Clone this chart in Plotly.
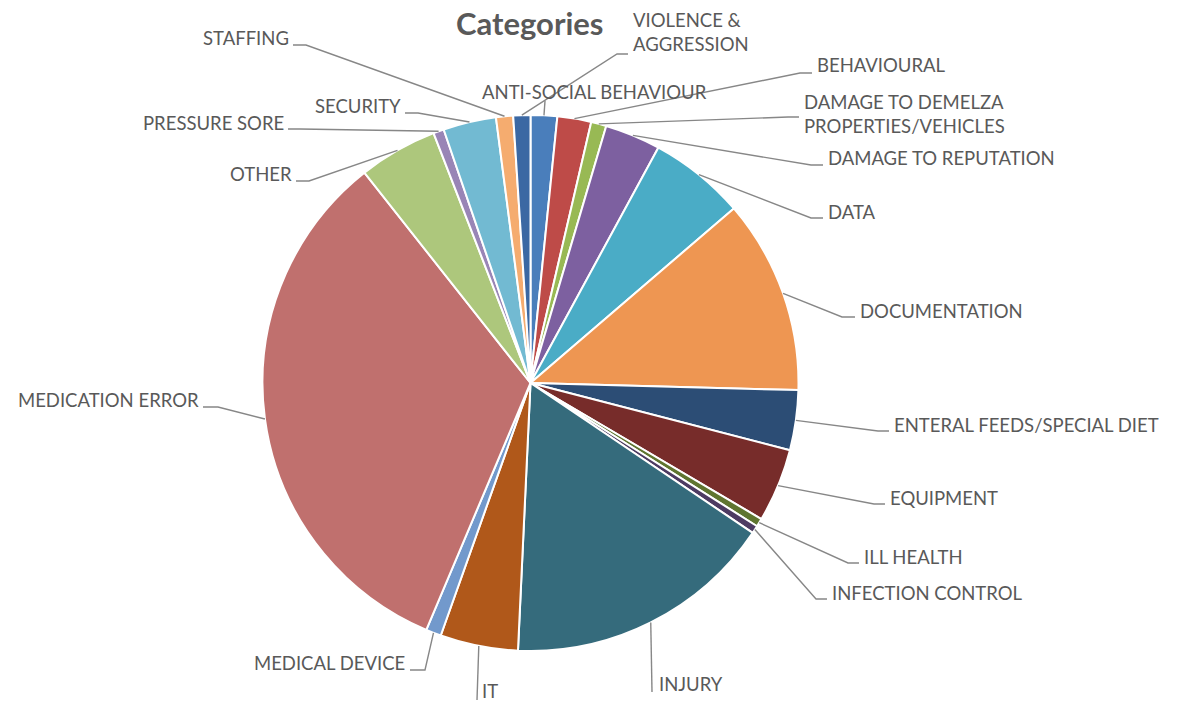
import math
import plotly.graph_objects as go

# ---------------- data ----------------
categories = [
    "ANTI-SOCIAL BEHAVIOUR", "BEHAVIOURAL", "DAMAGE TO DEMELZA PROPERTIES/VEHICLES",
    "DAMAGE TO REPUTATION", "DATA", "DOCUMENTATION", "ENTERAL FEEDS/SPECIAL DIET",
    "EQUIPMENT", "ILL HEALTH", "INFECTION CONTROL", "INJURY", "IT", "MEDICAL DEVICE",
    "MEDICATION ERROR", "OTHER", "PRESSURE SORE", "SECURITY", "STAFFING",
    "VIOLENCE & AGGRESSION",
]
values = [1.6, 2.04, 0.92, 3.36, 5.79, 11.71, 3.61, 4.44, 0.5, 0.47, 16.3, 4.69,
          0.92, 33.0, 4.75, 0.64, 3.19, 1.03, 1.03]
colors = ["#4A7EBB", "#BE4B48", "#98B954", "#7D60A0", "#4AACC6", "#EE9652",
          "#2C4D75", "#772C2A", "#5F7530", "#4D3B62", "#356B7C", "#B0581A",
          "#7299CC", "#C0706E", "#ADC77C", "#9985B6", "#72BAD2", "#F5AC6F",
          "#3B68A3"]
label_text = {
    "DAMAGE TO DEMELZA PROPERTIES/VEHICLES": "DAMAGE TO DEMELZA<br>PROPERTIES/VEHICLES",
    "VIOLENCE & AGGRESSION": "VIOLENCE &amp;<br>AGGRESSION",
}

# ---------------- layout constants (pixels) ----------------
W, H = 1182, 704
CX, CY, R = 530.5, 383.0, 268.0
FONT = "Lato"
TXT = "#595959"
LINE = "#878787"

# label placement: (x, y, xanchor) and leader (elbow, anchor) points
label_layout = {
    "ANTI-SOCIAL BEHAVIOUR": ((480, 92, "left"), None, (545, 101)),
    "BEHAVIOURAL": ((815, 65, "left"), (800, 73), (812, 73)),
    "DAMAGE TO DEMELZA PROPERTIES/VEHICLES": ((802, 114, "left"), (788, 117), (799, 117)),
    "DAMAGE TO REPUTATION": ((826, 158, "left"), (811, 165), (823, 165)),
    "DATA": ((826, 212, "left"), (811, 218), (823, 218)),
    "DOCUMENTATION": ((858, 311, "left"), (842, 317), (855, 317)),
    "ENTERAL FEEDS/SPECIAL DIET": ((892, 425, "left"), (878, 431), (889, 431)),
    "EQUIPMENT": ((888, 498, "left"), (874, 504), (885, 504)),
    "ILL HEALTH": ((862, 557, "left"), (848, 563), (859, 563)),
    "INFECTION CONTROL": ((830, 593, "left"), (816, 599), (827, 599)),
    "INJURY": ((657, 684, "left"), None, (652, 692)),
    "IT": ((480, 691, "left"), None, (477, 700)),
    "MEDICAL DEVICE": ((407, 663, "right"), (425, 670), (410, 670)),
    "MEDICATION ERROR": ((201, 400, "right"), (218, 407), (203, 407)),
    "OTHER": ((294, 174, "right"), (309, 181), (296, 181)),
    "PRESSURE SORE": ((286, 123, "right"), (300, 129), (288, 129)),
    "SECURITY": ((403, 106, "right"), (418, 113), (405, 113)),
    "STAFFING": ((291, 38, "right"), (306, 45), (293, 45)),
    "VIOLENCE & AGGRESSION": ((691, 32, "center"), (617, 54), (628, 54)),
}


def px(x):
    return x / W


def py(y):
    return 1 - y / H


fig = go.Figure(go.Pie(
    labels=categories, values=values, sort=False, direction="clockwise",
    rotation=0, textinfo="none", hoverinfo="label+value",
    marker=dict(colors=colors, line=dict(color="white", width=2)),
    domain=dict(x=[px(CX - R), px(CX + R)], y=[py(CY + R), py(CY - R)]),
    showlegend=False,
))

total = sum(values)
cum = 0.0
shapes, annotations = [], []
for cat, v in zip(categories, values):
    mid = (cum + v / 2) / total * 2 * math.pi
    cum += v
    ex, ey = CX + R * math.sin(mid), CY - R * math.cos(mid)
    (lx, ly, anc), elbow, anchor = label_layout[cat]
    pts = [(ex, ey)] + ([elbow] if elbow else []) + [anchor]
    path = "M " + " L ".join(f"{px(a):.5f},{py(b):.5f}" for a, b in pts)
    shapes.append(dict(type="path", path=path, xref="paper", yref="paper",
                       line=dict(color=LINE, width=1.4)))
    annotations.append(dict(
        text=label_text.get(cat, cat), x=px(lx), y=py(ly), xref="paper", yref="paper",
        xanchor=anc, yanchor="middle", showarrow=False, align="left",
        font=dict(family=FONT, size=18.5, color=TXT)))

annotations.append(dict(text="<b>Categories</b>", x=px(530), y=py(23), xref="paper",
                        yref="paper", xanchor="center", yanchor="middle",
                        showarrow=False, font=dict(family=FONT, size=31, color=TXT)))

fig.update_layout(width=W, height=H, margin=dict(l=0, r=0, t=0, b=0),
                  paper_bgcolor="white", plot_bgcolor="white",
                  shapes=shapes, annotations=annotations)
fig.write_html("out.html")
